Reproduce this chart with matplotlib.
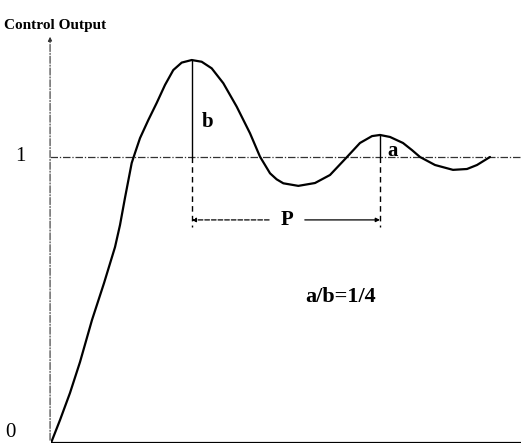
import matplotlib
matplotlib.use("Agg")
import matplotlib.pyplot as plt

# Response curve (time in arbitrary units, output relative to setpoint)
t = [0.000, 0.191, 0.404, 0.617, 0.872, 1.128, 1.362, 1.468, 1.574, 1.717,
     1.787, 1.894, 2.070, 2.249, 2.426, 2.602, 2.781, 2.994, 3.206, 3.419,
     3.666, 3.951, 4.234, 4.447, 4.660, 4.800, 4.943, 5.262, 5.617, 5.936, 6.298,
     6.574, 6.830, 7.000, 7.213, 7.489, 7.681, 7.851, 8.170, 8.553, 8.851,
     9.064, 9.340]
y = [0.000, 0.080, 0.175, 0.283, 0.430, 0.559, 0.685, 0.762, 0.857, 0.979,
     1.014, 1.066, 1.129, 1.189, 1.252, 1.304, 1.330, 1.339, 1.333, 1.310,
     1.258, 1.176, 1.083, 1.001, 0.943, 0.922, 0.908, 0.899, 0.909, 0.937, 1.000,
     1.049, 1.073, 1.077, 1.070, 1.049, 1.024, 1.000, 0.972, 0.955, 0.958,
     0.972, 1.000]

setpoint = 1.0
peak1_t, peak1_y = 2.994, 1.339
peak2_t, peak2_y = 7.000, 1.077
period_y = 0.780
dash_bottom = 0.755

fig = plt.figure(figsize=(5.25, 4.48), dpi=100)
ax = fig.add_axes([51/525, 5/448, 470/525, 409/448])
ax.set_xlim(0, 10)
ax.set_ylim(0, 1.43)
ax.axis("off")

serif = "Liberation Serif"

# axes
ax.plot([0, 10], [0, 0], color="black", lw=1.6, solid_capstyle="butt")
ax.annotate("", xy=(-0.02, 1.43), xytext=(-0.02, 0),
            arrowprops=dict(arrowstyle="-|>", color="#333333", lw=0.8,
                            linestyle="-.", mutation_scale=6), annotation_clip=False)
ax.plot([-0.02, 10], [setpoint, setpoint], color="#333333", lw=0.9,
        linestyle=(0, (6, 1.5, 1, 1.5)))

# response curve
ax.plot(t, y, color="black", lw=1.6, solid_joinstyle="round", solid_capstyle="round")

# peak verticals
for pt, py in [(peak1_t, peak1_y), (peak2_t, peak2_y)]:
    ax.plot([pt, pt], [py, setpoint], color="black", lw=1.0)
    ax.plot([pt, pt], [setpoint, dash_bottom], color="black", lw=1.0, linestyle=(0, (4, 3)))

# period arrow
p_mid = 5.02
ax.annotate("", xy=(peak1_t, period_y), xytext=(p_mid - 0.38, period_y),
            arrowprops=dict(arrowstyle="-|>", color="black", lw=0.9, linestyle="--",
                            mutation_scale=6, shrinkA=0, shrinkB=0))
ax.annotate("", xy=(peak2_t, period_y), xytext=(p_mid + 0.38, period_y),
            arrowprops=dict(arrowstyle="-|>", color="black", lw=0.9,
                            mutation_scale=6, shrinkA=0, shrinkB=0))
ax.text(p_mid, period_y, "P", fontsize=15, family=serif, fontweight="bold",
        ha="center", va="center")

ax.text(3.34, 1.124, "b", fontsize=15, family=serif, fontweight="bold",
        ha="center", va="center")
ax.text(7.26, 1.02, "a", fontsize=15, family=serif, fontweight="bold",
        ha="center", va="center")
ax.text(6.17, 0.51, "a/b=1/4", fontsize=16, family=serif, fontweight="bold",
        ha="center", va="center")

# tick labels
ax.text(-0.66, setpoint, "1", fontsize=15, family=serif, ha="center", va="center", clip_on=False)
ax.text(-0.87, 0.035, "0", fontsize=15, family=serif, ha="center", va="center", clip_on=False)

fig.text(55/525, 1 - 25/448, "Control Output", fontsize=11, family=serif,
         fontweight="bold", ha="center", va="center")

fig.savefig("out.png", dpi=100)
